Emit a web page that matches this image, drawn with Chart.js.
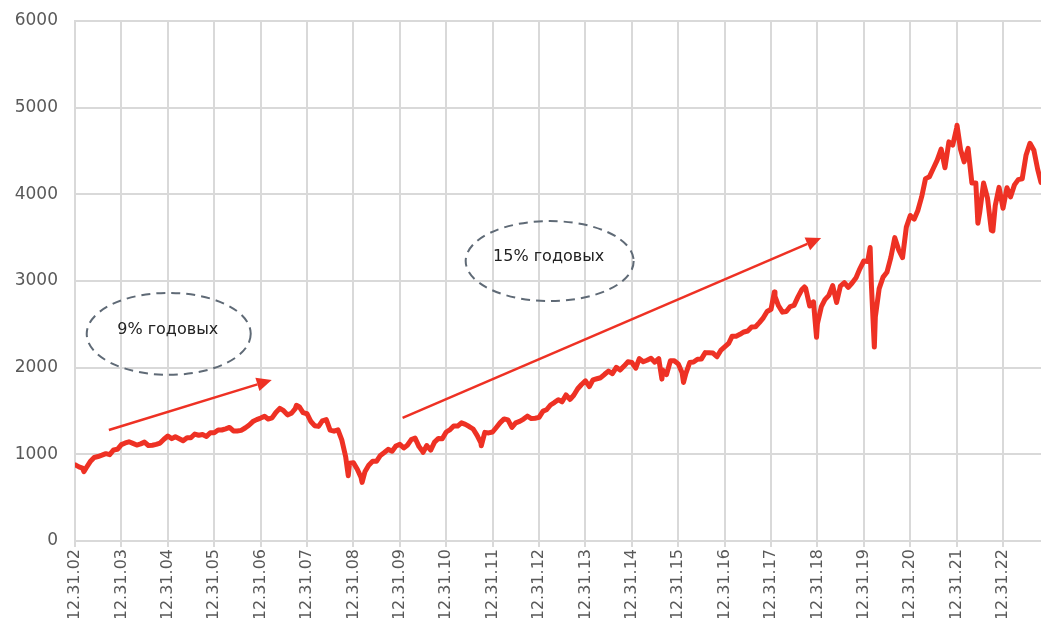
<!DOCTYPE html>
<html>
<head>
<meta charset="utf-8">
<script src="https://cdn.jsdelivr.net/npm/chart.js@4/dist/chart.umd.min.js"></script>
<style>
    html, body { margin: 0; padding: 0; background: #fff; overflow: hidden; }
    #wrap { width: 1041px; height: 640px; position: relative; }
</style>
</head>
<body>
<div id="wrap"><canvas id="spxChart"></canvas></div>
<script>
        // S&P 500: month-end closes, one row per year starting with 2003
        const firstDate = '2002-12-31';
        const firstClose = 879.82;
        const firstYear = 2003;
        const monthlyCloses = [
            [855.70, 841.15, 848.18, 916.92, 963.59, 974.50, 990.31, 1008.01, 995.97, 1050.71, 1058.20, 1111.92], // 2003
            [1131.13, 1144.94, 1126.21, 1107.30, 1120.68, 1140.84, 1101.72, 1104.24, 1114.58, 1130.20, 1173.82, 1211.92], // 2004
            [1181.27, 1203.60, 1180.59, 1156.85, 1191.50, 1191.33, 1234.18, 1220.33, 1228.81, 1207.01, 1249.48, 1248.29], // 2005
            [1280.08, 1280.66, 1294.83, 1310.61, 1270.09, 1270.20, 1276.66, 1303.82, 1335.85, 1377.94, 1400.63, 1418.30], // 2006
            [1438.24, 1406.82, 1420.86, 1482.37, 1530.62, 1503.35, 1455.27, 1473.99, 1526.75, 1549.38, 1481.14, 1468.36], // 2007
            [1378.55, 1330.63, 1322.70, 1385.59, 1400.38, 1280.00, 1267.38, 1282.83, 1166.36, 968.75, 896.24, 903.25], // 2008
            [825.88, 735.09, 797.87, 872.81, 919.14, 919.32, 987.48, 1020.62, 1057.08, 1036.19, 1095.63, 1115.10], // 2009
            [1073.87, 1104.49, 1169.43, 1186.69, 1089.41, 1030.71, 1101.60, 1049.33, 1141.20, 1183.26, 1180.55, 1257.64], // 2010
            [1286.12, 1327.22, 1325.83, 1363.61, 1345.20, 1320.64, 1292.28, 1218.89, 1131.42, 1253.30, 1246.96, 1257.60], // 2011
            [1312.41, 1365.68, 1408.47, 1397.91, 1310.33, 1362.16, 1379.32, 1406.58, 1440.67, 1412.16, 1416.18, 1426.19], // 2012
            [1498.11, 1514.68, 1569.19, 1597.57, 1630.74, 1606.28, 1685.73, 1632.97, 1681.55, 1756.54, 1805.81, 1848.36], // 2013
            [1782.59, 1859.45, 1872.34, 1883.95, 1923.57, 1960.23, 1930.67, 2003.37, 1972.29, 2018.05, 2067.56, 2058.90], // 2014
            [1994.99, 2104.50, 2067.89, 2085.51, 2107.39, 2063.11, 2103.84, 1972.18, 1920.03, 2079.36, 2080.41, 2043.94], // 2015
            [1940.24, 1932.23, 2059.74, 2065.30, 2096.95, 2098.86, 2173.60, 2170.95, 2168.27, 2126.15, 2198.81, 2238.83], // 2016
            [2278.87, 2363.64, 2362.72, 2384.20, 2411.80, 2423.41, 2470.30, 2471.65, 2519.36, 2575.26, 2647.58, 2673.61], // 2017
            [2823.81, 2713.83, 2640.87, 2648.05, 2705.27, 2718.37, 2816.29, 2901.52, 2913.98, 2711.74, 2760.17, 2506.85], // 2018
            [2704.10, 2784.49, 2834.40, 2945.83, 2752.06, 2941.76, 2980.38, 2926.46, 2976.74, 3037.56, 3140.98, 3230.78], // 2019
            [3225.52, 2954.22, 2584.59, 2912.43, 3044.31, 3100.29, 3271.12, 3500.31, 3363.00, 3269.96, 3621.63, 3756.07], // 2020
            [3714.24, 3811.15, 3972.89, 4181.17, 4204.11, 4297.50, 4395.26, 4522.68, 4307.54, 4605.38, 4567.00, 4766.18], // 2021
            [4515.55, 4373.94, 4530.41, 4131.93, 4132.15, 3785.38, 4130.29, 3955.00, 3585.62, 3871.98, 4080.11, 3839.50], // 2022
            [4076.60, 3970.15, 4109.31, 4169.48, 4179.83, 4450.38, 4588.96, 4507.66, 4288.05] // 2023
        ];

        // intra-month highs and lows plus the last close
        const swingDates = ['2003-03-11', '2007-10-09', '2008-11-20', '2009-03-09', '2010-07-02', '2011-10-03',
            '2015-08-25', '2016-02-11', '2018-01-26', '2018-09-20', '2018-12-24', '2020-02-19', '2020-03-23',
            '2022-01-03', '2022-06-16', '2022-10-12', '2023-10-26'];
        const swingCloses = [800.73, 1565.15, 752.44, 676.53, 1022.58, 1099.23,
            1867.61, 1829.08, 2872.87, 2930.75, 2351.10, 3386.15, 2237.40,
            4796.56, 3666.77, 3577.03, 4137.23];

        const tickLabels = ['12.31.02', '12.31.03', '12.31.04', '12.31.05', '12.31.06', '12.31.07', '12.31.08',
            '12.31.09', '12.31.10', '12.31.11', '12.31.12', '12.31.13', '12.31.14', '12.31.15', '12.31.16',
            '12.31.17', '12.31.18', '12.31.19', '12.31.20', '12.31.21', '12.31.22'];

        // trend arrows and the ellipse notes, in chart units (years from 12.31.02, index points)
        const trendArrows = [
            { from: [0.73, 1280], to: [4.24, 1858] },
            { from: [7.06, 1420], to: [16.08, 3496] }
        ];
        const notes = [
            { text: '9% годовых', at: [2.02, 2390], rx: 82, ry: 41 },
            { text: '15% годовых', at: [10.23, 3230], rx: 84, ry: 40 }
        ];

        const RED = '#EE3124';
        const GRID = '#d9d9d9';
        const DAY = 86400000;
        const base = Date.UTC(2002, 11, 31);

        function yearsFrom(ms) {
            return (ms - base) / (365.25 * DAY);
        }
        function parseDay(s) {
            const p = s.split('-').map(Number);
            return Date.UTC(p[0], p[1] - 1, p[2]);
        }

        // build the series: month ends + swing points, sorted by time
        let points = [{ x: yearsFrom(parseDay(firstDate)), y: firstClose }];
        monthlyCloses.forEach((row, i) => {
            row.forEach((v, m) => {
                const d = Date.UTC(firstYear + i, m + 1, 0); // last day of month
                points.push({ x: yearsFrom(d), y: v });
            });
        });
        swingDates.forEach((s, i) => points.push({ x: yearsFrom(parseDay(s)), y: swingCloses[i] }));
        points.sort((a, b) => a.x - b.x);
        const lastX = points[points.length - 1].x;

        const notesPlugin = {
            id: 'notes',
            afterDatasetsDraw(chart) {
                const c = chart.ctx;
                const xs = chart.scales.x, ys = chart.scales.y;

                trendArrows.forEach(a => {
                    const x1 = xs.getPixelForValue(a.from[0]), y1 = ys.getPixelForValue(a.from[1]);
                    const x2 = xs.getPixelForValue(a.to[0]), y2 = ys.getPixelForValue(a.to[1]);
                    const ang = Math.atan2(y2 - y1, x2 - x1);
                    const head = 15, half = 7;
                    c.save();
                    c.strokeStyle = RED;
                    c.fillStyle = RED;
                    c.lineWidth = 2.5;
                    c.beginPath();
                    c.moveTo(x1, y1);
                    c.lineTo(x2 - head * Math.cos(ang), y2 - head * Math.sin(ang));
                    c.stroke();
                    c.beginPath();
                    c.moveTo(x2, y2);
                    c.lineTo(x2 - head * Math.cos(ang) + half * Math.sin(ang), y2 - head * Math.sin(ang) - half * Math.cos(ang));
                    c.lineTo(x2 - head * Math.cos(ang) - half * Math.sin(ang), y2 - head * Math.sin(ang) + half * Math.cos(ang));
                    c.closePath();
                    c.fill();
                    c.restore();
                });

                notes.forEach(n => {
                    const cx = xs.getPixelForValue(n.at[0]), cy = ys.getPixelForValue(n.at[1]);
                    c.save();
                    c.setLineDash([9, 6]);
                    c.strokeStyle = '#5f6a76';
                    c.lineWidth = 2;
                    c.beginPath();
                    c.ellipse(cx, cy, n.rx, n.ry, 0, 0, Math.PI * 2);
                    c.stroke();
                    c.setLineDash([]);
                    c.fillStyle = '#222';
                    c.font = '16px "DejaVu Sans"';
                    c.textAlign = 'center';
                    c.textBaseline = 'middle';
                    c.fillText(n.text, cx - 1, cy - 4);
                    c.restore();
                });
            }
        };

        const ctx = document.getElementById('spxChart').getContext('2d');
        const myChart = new Chart(ctx, {
            type: 'line',
            data: {
                datasets: [{
                    label: 'S&P 500',
                    data: points,
                    borderColor: RED,
                    borderWidth: 5,
                    borderJoinStyle: 'round',
                    borderCapStyle: 'round',
                    pointRadius: 0,
                    tension: 0,
                    fill: false
                }]
            },
            options: {
                responsive: true,
                maintainAspectRatio: false,
                animation: false,
                layout: { padding: { top: 21, right: 0, left: 0, bottom: 0 } },
                plugins: { legend: { display: false }, tooltip: { enabled: false } },
                scales: {
                    x: {
                        type: 'linear',
                        min: 0,
                        max: lastX,
                        afterBuildTicks(scale) {
                            scale.ticks = tickLabels.map((t, i) => ({ value: i }));
                        },
                        afterFit(scale) {
                            scale.height = 99;
                            scale.paddingLeft = 0;
                            scale.paddingRight = 0;
                        },
                        grid: { color: GRID, lineWidth: 2, tickLength: 6, drawTicks: true },
                        border: { color: GRID, width: 2 },
                        ticks: {
                            autoSkip: false,
                            minRotation: 90,
                            maxRotation: 90,
                            padding: 2,
                            color: '#595959',
                            font: { family: 'DejaVu Sans', size: 16 },
                            callback: (v) => tickLabels[v] ?? ''
                        }
                    },
                    y: {
                        min: 0,
                        max: 6000,
                        afterFit(scale) {
                            scale.width = 75;
                            scale.paddingTop = 10;
                            scale.paddingBottom = 10;
                        },
                        grid: { color: GRID, lineWidth: 2, drawTicks: false },
                        border: { color: GRID, width: 2 },
                        ticks: {
                            stepSize: 1000,
                            padding: 17,
                            color: '#595959',
                            font: { family: 'DejaVu Sans', size: 17 },
                            callback: (v) => String(v)
                        }
                    }
                }
            },
            plugins: [notesPlugin]
        });
</script>
</body>
</html>
